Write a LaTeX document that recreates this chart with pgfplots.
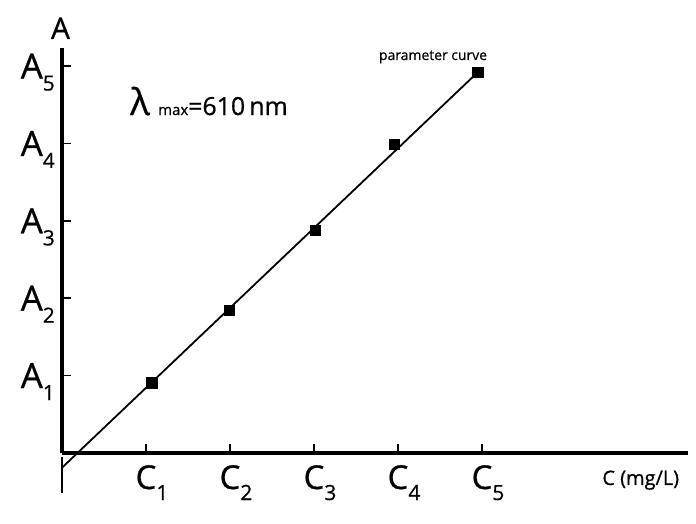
\documentclass[border=0pt]{standalone}
\usepackage{pgfplots}
\pgfplotsset{compat=1.18}
\usepackage{fontspec}
\setmainfont{Open Sans}[FakeBold=0.7]
\newcommand{\ylab}[1]{\fontsize{35}{35}\selectfont A\raisebox{-12bp}[0pt][0pt]{\fontsize{21}{21}\selectfont #1}}
\newcommand{\xlab}[1]{\fontsize{33}{33}\selectfont C\rlap{\raisebox{-11bp}[0pt][0pt]{\fontsize{21}{21}\selectfont #1}}}
\begin{document}
\begin{tikzpicture}
\begin{axis}[name=ax, scale only axis, width=626bp, height=405bp,
  xmin=0, xmax=7.452, ymin=0, ymax=5.233,
  axis lines=left, axis line style={line width=4bp, -, black},
  clip=false,
  xtick={1,2,3,4,5}, ytick={1,2,3,4,5},
  xticklabels={{\xlab{1}},{\xlab{2}},{\xlab{3}},{\xlab{4}},{\xlab{5}}},
  yticklabels={{\ylab{1}},{\ylab{2}},{\ylab{3}},{\ylab{4}},{\ylab{5}}},
  tick align=inside, major tick length=9bp,
  tick style={line width=1.5bp, black},
  xticklabel style={anchor=north, inner sep=0pt, yshift=-12bp},
  yticklabel style={anchor=east, inner sep=0pt, xshift=-7bp},
]
\addplot[black, line width=1.8bp, no marks] coordinates {(0,-0.19) (4.949,4.919)};
\addplot[only marks, mark=square*, mark size=5.2bp, black] coordinates {
(1.068,0.908) (1.988,1.848) (3.012,2.881) (3.952,3.992) (4.949,4.919)};
\draw[black, line width=2bp] (axis cs:0,-0.05) -- (axis cs:0,-0.52);
\node[anchor=base west, inner sep=0pt] at (axis cs:0.81,4.367) {\fontsize{37}{37}\selectfont λ};
\node[anchor=base west, inner sep=0pt] at (axis cs:1.143,4.367) {\fontsize{15}{15}\selectfont max};
\node[anchor=base west, inner sep=0pt] at (axis cs:1.500,4.367) {\fontsize{25}{25}\selectfont =610\,nm};
\node[anchor=base, inner sep=0pt] at (axis cs:4.417,5.078) {\fontsize{14}{14}\selectfont parameter curve};
\node[anchor=base, inner sep=0pt] at (axis cs:6.89,-0.413) {\fontsize{20}{20}\selectfont C (mg/L)};
\node[anchor=base, inner sep=0pt] at (axis cs:-0.018,5.35) {\fontsize{30}{30}\selectfont A};
\end{axis}
\path ([xshift=-62bp,yshift=-71bp]ax.south west) rectangle ++(696bp,524bp);
\end{tikzpicture}
\end{document}
